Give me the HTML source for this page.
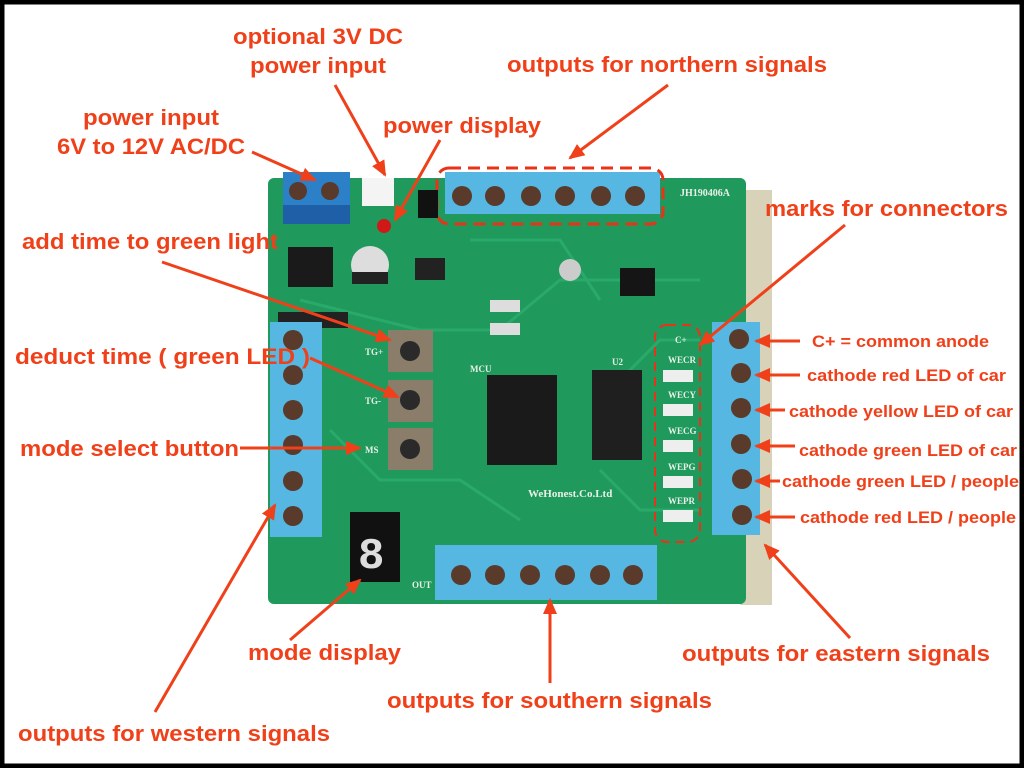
<!DOCTYPE html>
<html><head><style>
body{margin:0;background:#fff}
svg{display:block}
text{font-family:"Liberation Sans",sans-serif;font-weight:bold;fill:#f0401a}
.s{font-family:"Liberation Serif",serif;font-weight:bold;fill:#e8f0e8;font-size:9px}
</style></head><body>
<svg width="1024" height="768" viewBox="0 0 1024 768">
<rect x="0" y="0" width="1024" height="768" fill="#fff"/>
<rect x="2" y="2" width="1020" height="764" fill="none" stroke="#000" stroke-width="5"/>
<rect x="740" y="190" width="32" height="415" fill="#d8d2b8"/>
<rect x="268" y="178" width="478" height="426" rx="6" fill="#1f9a5c"/>
<g stroke="#2fb070" stroke-width="3" fill="none" opacity="0.7">
<path d="M300 300 L420 330 L500 330 L560 280 L700 280"/>
<path d="M330 430 L380 480 L460 480 L520 520"/>
<path d="M600 400 L660 340 L700 340"/>
<path d="M470 240 L560 240 L600 300"/>
<path d="M600 470 L640 510 L700 510"/>
</g>
<rect x="283" y="172" width="67" height="52" fill="#2c80c8"/>
<rect x="283" y="205" width="67" height="19" fill="#1e5fa8"/>
<circle cx="298" cy="191" r="9" fill="#5a3a2a"/><circle cx="330" cy="191" r="9" fill="#5a3a2a"/>
<rect x="362" y="178" width="32" height="28" fill="#f4f4f4"/>
<circle cx="384" cy="226" r="7" fill="#d01818"/>
<rect x="288" y="247" width="45" height="40" fill="#1a1a1a"/>
<circle cx="370" cy="265" r="19" fill="#ddd"/><rect x="352" y="272" width="36" height="12" fill="#222"/>
<rect x="415" y="258" width="30" height="22" fill="#222"/>
<circle cx="570" cy="270" r="11" fill="#ccc"/>
<rect x="620" y="268" width="35" height="28" fill="#151515"/>
<rect x="278" y="312" width="70" height="16" fill="#222"/>
<rect x="445" y="172" width="215" height="42" fill="#55b7e2"/>
<g fill="#5a3a2a"><circle cx="462" cy="196" r="10"/><circle cx="495" cy="196" r="10"/><circle cx="531" cy="196" r="10"/><circle cx="565" cy="196" r="10"/><circle cx="601" cy="196" r="10"/><circle cx="635" cy="196" r="10"/></g>
<rect x="437" y="168" width="226" height="56" rx="12" fill="none" stroke="#e8321a" stroke-width="3" stroke-dasharray="12,7"/>
<rect x="418" y="190" width="20" height="28" fill="#111"/>
<text x="680" y="196" class="s" style="font-size:10px">JH190406A</text>
<rect x="270" y="322" width="52" height="215" fill="#55b7e2"/>
<g fill="#5a3a2a"><circle cx="293" cy="340" r="10"/><circle cx="293" cy="375" r="10"/><circle cx="293" cy="410" r="10"/><circle cx="293" cy="445" r="10"/><circle cx="293" cy="481" r="10"/><circle cx="293" cy="516" r="10"/></g>
<g fill="#8a7d6a"><rect x="388" y="330" width="45" height="42"/><rect x="388" y="380" width="45" height="42"/><rect x="388" y="428" width="45" height="42"/></g>
<g fill="#2a2a2a"><circle cx="410" cy="351" r="10"/><circle cx="410" cy="400" r="10"/><circle cx="410" cy="449" r="10"/></g>
<text x="365" y="355" class="s">TG+</text><text x="365" y="404" class="s">TG-</text><text x="365" y="453" class="s">MS</text>
<rect x="487" y="375" width="70" height="90" fill="#1a1a1a"/>
<rect x="592" y="370" width="50" height="90" fill="#1f1f1f"/>
<text x="612" y="365" class="s">U2</text><text x="470" y="372" class="s">MCU</text>
<rect x="490" y="300" width="30" height="12" fill="#ddd"/><rect x="490" y="323" width="30" height="12" fill="#ddd"/>
<rect x="350" y="512" width="50" height="70" fill="#111"/>
<text x="358" y="568" style="font-size:44px;fill:#ddd;font-family:'Liberation Mono',monospace">8</text>
<text x="412" y="588" class="s">OUT</text>
<text x="528" y="497" class="s" style="font-size:11px">WeHonest.Co.Ltd</text>
<rect x="655" y="325" width="45" height="217" rx="12" fill="none" stroke="#e8321a" stroke-width="2" stroke-dasharray="9,6"/>
<g fill="#eee"><rect x="663" y="370" width="30" height="12"/><rect x="663" y="404" width="30" height="12"/><rect x="663" y="440" width="30" height="12"/><rect x="663" y="476" width="30" height="12"/><rect x="663" y="510" width="30" height="12"/></g>
<text x="668" y="363" class="s">WECR</text><text x="668" y="398" class="s">WECY</text><text x="668" y="434" class="s">WECG</text><text x="668" y="470" class="s">WEPG</text><text x="668" y="504" class="s">WEPR</text><text x="675" y="343" class="s">C+</text>
<rect x="712" y="322" width="48" height="213" fill="#55b7e2"/>
<g fill="#5a3a2a"><circle cx="739" cy="339" r="10"/><circle cx="741" cy="373" r="10"/><circle cx="741" cy="408" r="10"/><circle cx="741" cy="444" r="10"/><circle cx="742" cy="479" r="10"/><circle cx="742" cy="515" r="10"/></g>
<rect x="435" y="545" width="222" height="55" fill="#55b7e2"/>
<g fill="#5a3a2a"><circle cx="461" cy="575" r="10"/><circle cx="495" cy="575" r="10"/><circle cx="530" cy="575" r="10"/><circle cx="565" cy="575" r="10"/><circle cx="600" cy="575" r="10"/><circle cx="633" cy="575" r="10"/></g>
<defs><marker id="b" markerWidth="16" markerHeight="14" refX="14" refY="7" orient="auto" markerUnits="userSpaceOnUse"><path d="M0 0 L16 7 L0 14z" fill="#f0401a"/></marker></defs>
<g stroke="#f0401a" stroke-width="3" fill="none" marker-end="url(#b)">
<line x1="252" y1="152" x2="315" y2="180"/>
<line x1="335" y1="85" x2="385" y2="175"/>
<line x1="440" y1="140" x2="395" y2="220"/>
<line x1="668" y1="85" x2="570" y2="158"/>
<line x1="162" y1="262" x2="390" y2="340"/>
<line x1="310" y1="358" x2="398" y2="397"/>
<line x1="240" y1="448" x2="360" y2="448"/>
<line x1="845" y1="225" x2="700" y2="345"/>
<line x1="800" y1="341" x2="756" y2="341"/>
<line x1="800" y1="375" x2="756" y2="375"/>
<line x1="785" y1="410" x2="756" y2="410"/>
<line x1="795" y1="446" x2="756" y2="446"/>
<line x1="780" y1="481" x2="756" y2="481"/>
<line x1="795" y1="517" x2="756" y2="517"/>
<line x1="155" y1="712" x2="275" y2="505"/>
<line x1="290" y1="640" x2="360" y2="580"/>
<line x1="550" y1="683" x2="550" y2="600"/>
<line x1="850" y1="638" x2="765" y2="545"/>
</g>
<g font-size="22">
<text x="233" y="44" textLength="170" lengthAdjust="spacingAndGlyphs">optional 3V DC</text>
<text x="250" y="73" textLength="136" lengthAdjust="spacingAndGlyphs">power input</text>
<text x="83" y="125" textLength="136" lengthAdjust="spacingAndGlyphs">power input</text>
<text x="57" y="154" textLength="188" lengthAdjust="spacingAndGlyphs">6V to 12V AC/DC</text>
<text x="383" y="133" textLength="158" lengthAdjust="spacingAndGlyphs">power display</text>
<text x="507" y="72" textLength="320" lengthAdjust="spacingAndGlyphs">outputs for northern signals</text>
<text x="22" y="249" textLength="256" lengthAdjust="spacingAndGlyphs">add time to green light</text>
<text x="765" y="216" textLength="243" lengthAdjust="spacingAndGlyphs">marks for connectors</text>
<text x="15" y="364" textLength="295" lengthAdjust="spacingAndGlyphs">deduct time  ( green LED )</text>
<text x="20" y="456" textLength="219" lengthAdjust="spacingAndGlyphs">mode select button</text>
<text x="248" y="660" textLength="153" lengthAdjust="spacingAndGlyphs">mode display</text>
<text x="682" y="661" textLength="308" lengthAdjust="spacingAndGlyphs">outputs for eastern signals</text>
<text x="387" y="708" textLength="325" lengthAdjust="spacingAndGlyphs">outputs for southern signals</text>
<text x="18" y="741" textLength="312" lengthAdjust="spacingAndGlyphs">outputs for western signals</text>
</g>
<g font-size="17">
<text x="812" y="347" textLength="177" lengthAdjust="spacingAndGlyphs">C+ = common anode</text>
<text x="807" y="381" textLength="199" lengthAdjust="spacingAndGlyphs">cathode red LED of car</text>
<text x="789" y="417" textLength="224" lengthAdjust="spacingAndGlyphs">cathode yellow LED of car</text>
<text x="799" y="456" textLength="218" lengthAdjust="spacingAndGlyphs">cathode green LED of car</text>
<text x="782" y="487" textLength="237" lengthAdjust="spacingAndGlyphs">cathode green LED / people</text>
<text x="800" y="523" textLength="216" lengthAdjust="spacingAndGlyphs">cathode red LED / people</text>
</g>
</svg>
</body></html>
